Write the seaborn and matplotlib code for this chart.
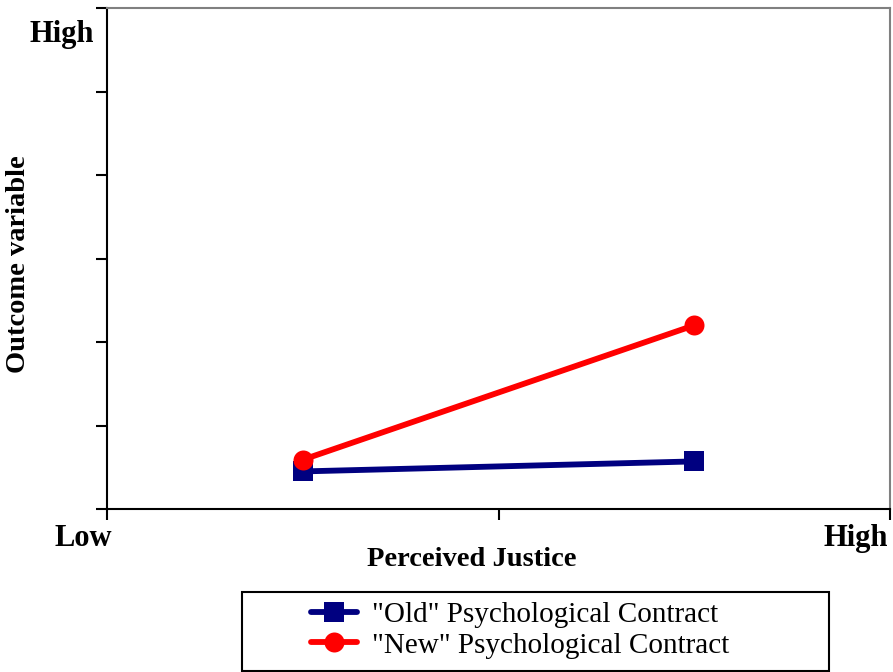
import pandas as pd
import seaborn as sns
import matplotlib.pyplot as plt
from matplotlib.lines import Line2D
from matplotlib.patches import Rectangle
from matplotlib.transforms import ScaledTranslation

# --- datos ---
justice = [0.5, 1.5, 0.5, 1.5]
outcome = [0.45, 0.57, 0.59, 2.20]
contract = ['"Old" Psychological Contract', '"Old" Psychological Contract',
            '"New" Psychological Contract', '"New" Psychological Contract']
series = ['"Old" Psychological Contract', '"New" Psychological Contract']
colors = ["#000080", "#FF0000"]
markers = ["s", "o"]
x_ticks = [0, 1, 2]
x_ticklabels = ["Low", "", "High"]
y_ticks = [0, 1, 2, 3, 4, 5, 6]
y_ticklabels = ["", "", "", "", "", "", "High"]

df = pd.DataFrame({"justice": justice, "outcome": outcome, "contract": contract})

sns.set_style("white")
plt.rcParams["font.family"] = ["Liberation Serif", "DejaVu Serif"]
plt.rcParams["text.color"] = "black"
plt.rcParams["axes.labelcolor"] = "black"
plt.rcParams["xtick.color"] = "black"
plt.rcParams["ytick.color"] = "black"

fig = plt.figure(figsize=(8.93, 6.72), dpi=100)
ax = fig.add_axes([107 / 893, 1 - 509 / 672, 783 / 893, 501 / 672])

for name, col, mk in zip(series, colors, markers):
    sns.lineplot(data=df[df["contract"] == name], x="justice", y="outcome",
                 ax=ax, color=col, marker=mk, markersize=14.4, linewidth=4.2,
                 markeredgewidth=0, legend=False)

ax.set_xlim(0, 2)
ax.set_ylim(0, 6)
ax.set_xticks(x_ticks)
ax.set_xticklabels(x_ticklabels, fontsize=22, fontweight="bold", ha="right")
ax.set_yticks(y_ticks)
ax.set_yticklabels(y_ticklabels, fontsize=22, fontweight="bold")

ax.tick_params(axis="both", direction="out", length=8, width=1.5, color="black",
               labelcolor="black", left=True, bottom=True)
ax.tick_params(axis="x", pad=3)
ax.tick_params(axis="y", pad=1)

# desplazar etiquetas como en el original
xl = ax.get_xticklabels()
xl[0].set_transform(xl[0].get_transform() + ScaledTranslation(5 / 100, 0, fig.dpi_scale_trans))
xl[2].set_transform(xl[2].get_transform() + ScaledTranslation(-2 / 100, 0, fig.dpi_scale_trans))
yl = ax.get_yticklabels()
yl[-1].set_va("top")
yl[-1].set_transform(yl[-1].get_transform() + ScaledTranslation(0, -12 / 100, fig.dpi_scale_trans))

for side in ["left", "bottom"]:
    ax.spines[side].set_color("black")
    ax.spines[side].set_linewidth(1.5)
for side in ["top", "right"]:
    ax.spines[side].set_color("#808080")
    ax.spines[side].set_linewidth(1.5)

ax.set_xlabel("Perceived Justice", fontsize=20.5, fontweight="bold", color="black")
ax.xaxis.set_label_coords((472 - 107) / 783, -0.075)
ax.set_ylabel("Outcome variable", fontsize=20.5, fontweight="bold", color="black")
ax.yaxis.set_label_coords(-0.097, 0.489)

# leyenda
handles = [Line2D([], [], color=c, marker=m, markersize=14.4, linewidth=4.2,
                  markeredgewidth=0, label=s)
           for s, c, m in zip(series, colors, markers)]
fig.legend(handles=handles, loc="center", bbox_to_anchor=(520 / 893, 1 - 630 / 672),
           frameon=False, prop={"size": 21}, handlelength=1.6, handletextpad=0.5,
           labelspacing=0.15, borderpad=0, labelcolor="black")
fig.patches.append(Rectangle((242 / 893, 1 / 672), 587 / 893, 79 / 672,
                             transform=fig.transFigure, fill=False,
                             edgecolor="black", linewidth=1.5))

fig.savefig("out.png", dpi=100)
